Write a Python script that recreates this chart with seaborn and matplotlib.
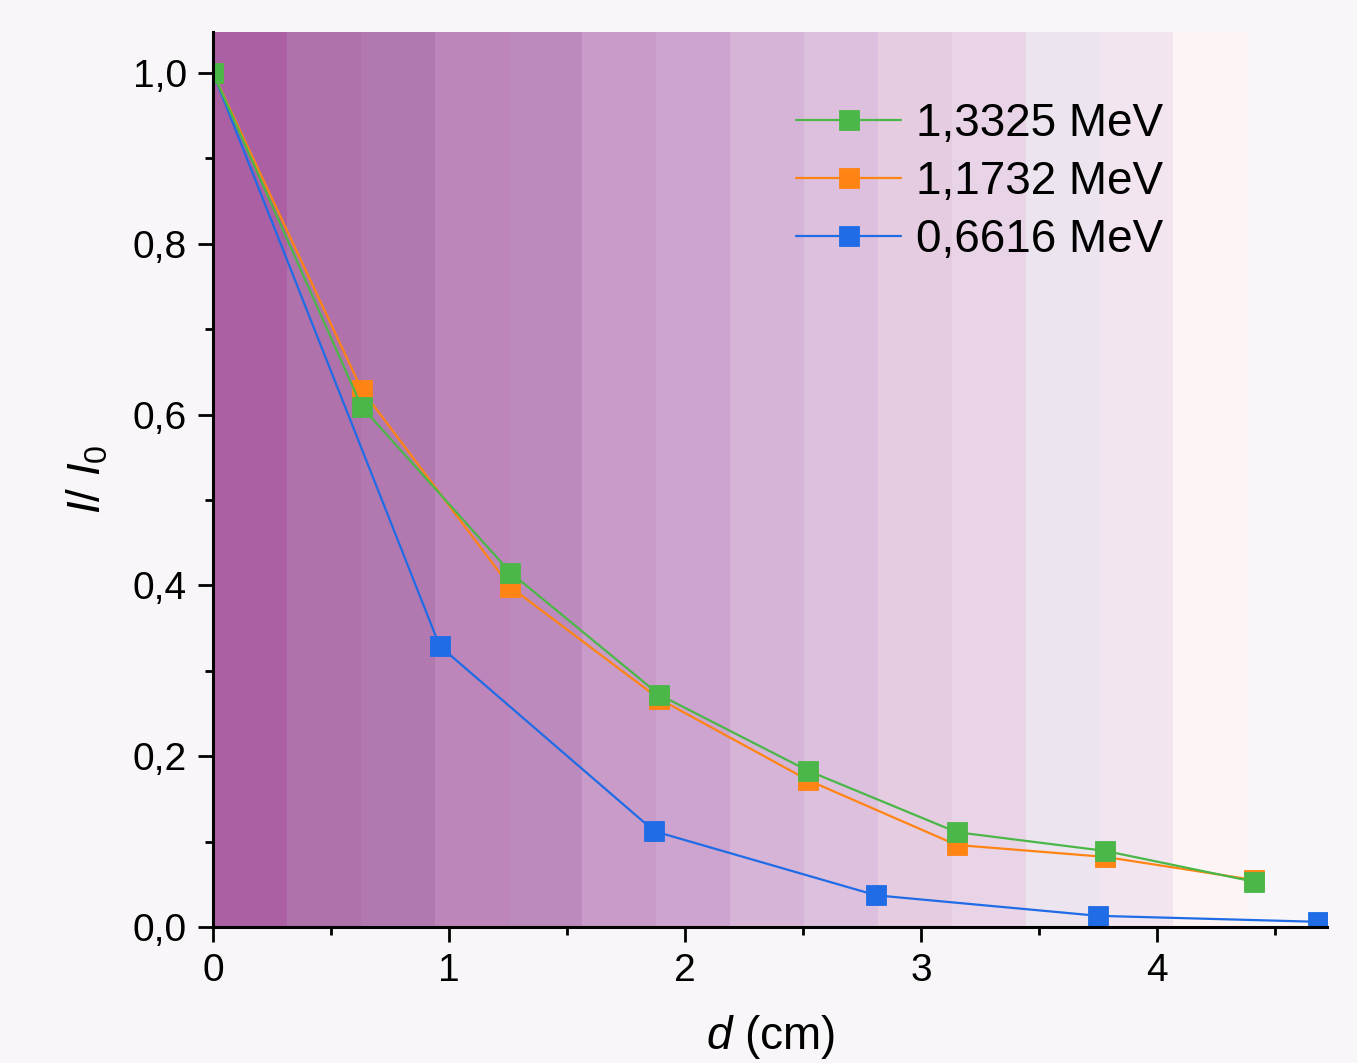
import numpy as np
import pandas as pd
import matplotlib
matplotlib.use("Agg")
import matplotlib.pyplot as plt
from matplotlib.ticker import MultipleLocator, FuncFormatter
import seaborn as sns

# data
d_high = [0.0, 0.63, 1.26, 1.89, 2.52, 3.15, 3.78, 4.41]
ratio_13325 = [1.0, 0.609, 0.415, 0.272, 0.183, 0.111, 0.089, 0.053]
ratio_11732 = [1.0, 0.629, 0.398, 0.267, 0.172, 0.096, 0.082, 0.055]
d_low = [0.0, 0.96, 1.87, 2.81, 3.75, 4.68]
ratio_06616 = [1.0, 0.329, 0.112, 0.037, 0.013, 0.006]

labels = ["1,3325 MeV", "1,1732 MeV", "0,6616 MeV"]

# background gradient bands
band_edges = [0.0, 0.313, 0.626, 0.939, 1.252, 1.565, 1.878, 2.191,
              2.504, 2.817, 3.13, 3.443, 3.756, 4.069, 4.382]
band_colors = ["#AA60A3", "#AF72AB", "#B279B1", "#BD85BA", "#BD8ABD",
               "#C89BC8", "#CDA3CF", "#D6B4D7", "#DDC0DD", "#E5CCE0",
               "#E9D4E7", "#ECE4EE", "#F2E5EF", "#FDF4F5"]

df = pd.concat([
    pd.DataFrame({"d": d_high, "r": ratio_13325, "E": labels[0]}),
    pd.DataFrame({"d": d_high, "r": ratio_11732, "E": labels[1]}),
    pd.DataFrame({"d": d_low, "r": ratio_06616, "E": labels[2]}),
])

colors = {labels[0]: "#4BB749", labels[1]: "#FF8413", labels[2]: "#1F6CE6"}

sns.set_style("ticks")
plt.rcParams['font.family'] = ['Liberation Sans', 'DejaVu Sans']
plt.rcParams['mathtext.fontset'] = 'custom'
plt.rcParams['mathtext.it'] = 'Liberation Sans:italic'
plt.rcParams['mathtext.rm'] = 'Liberation Sans'
plt.rcParams['text.color'] = 'black'
plt.rcParams['axes.labelcolor'] = 'black'

bg = "#F8F6F8"
fig = plt.figure(figsize=(13.57, 10.63), dpi=100, facecolor=bg)
ax = fig.add_axes([0.157, 0.128, 0.821, 0.842])
ax.set_facecolor(bg)

for i in range(len(band_colors)):
    ax.axvspan(band_edges[i], band_edges[i + 1], color=band_colors[i], lw=0, zorder=0)

# draw blue first so green ends on top
for lab in [labels[2], labels[1], labels[0]]:
    sub = df[df["E"] == lab]
    sns.lineplot(data=sub, x="d", y="r", ax=ax, color=colors[lab], label=lab,
                 marker="s", markersize=14, markeredgewidth=0.6,
                 markeredgecolor=colors[lab], linewidth=1.6, sort=False, zorder=3)

ax.set_xlim(0, 4.72)
ax.set_ylim(0, 1.048)
ax.xaxis.set_major_locator(MultipleLocator(1))
ax.xaxis.set_minor_locator(MultipleLocator(0.5))
ax.yaxis.set_major_locator(MultipleLocator(0.2))
ax.yaxis.set_minor_locator(MultipleLocator(0.1))
ax.yaxis.set_major_formatter(FuncFormatter(lambda v, p: f"{v:.1f}".replace(".", ",")))
ax.xaxis.set_major_formatter(FuncFormatter(lambda v, p: f"{v:.0f}"))

sns.despine(ax=ax)
for s in ["left", "bottom"]:
    ax.spines[s].set_linewidth(2.2)
    ax.spines[s].set_color("black")
    ax.spines[s].set_zorder(5)
ax.tick_params(which="major", length=11, width=2, labelsize=28, colors="black",
               labelcolor="black", pad=8)
ax.tick_params(which="minor", length=6, width=2, colors="black")

ax.set_xlabel(r"$d$ (cm)", fontsize=33, labelpad=17, color="black")
ax.set_ylabel(r"$I/\ I_0$", fontsize=33, labelpad=16, color="black")

h, l = ax.get_legend_handles_labels()
leg = ax.legend(h[::-1], l[::-1], loc="upper right", bbox_to_anchor=(0.878, 0.952),
                fontsize=33, frameon=False, handlelength=2.3, handletextpad=0.33,
                labelspacing=0.3, borderaxespad=0.2)
for t in leg.get_texts():
    t.set_color("black")

fig.savefig("out.png", dpi=100, facecolor=bg)
